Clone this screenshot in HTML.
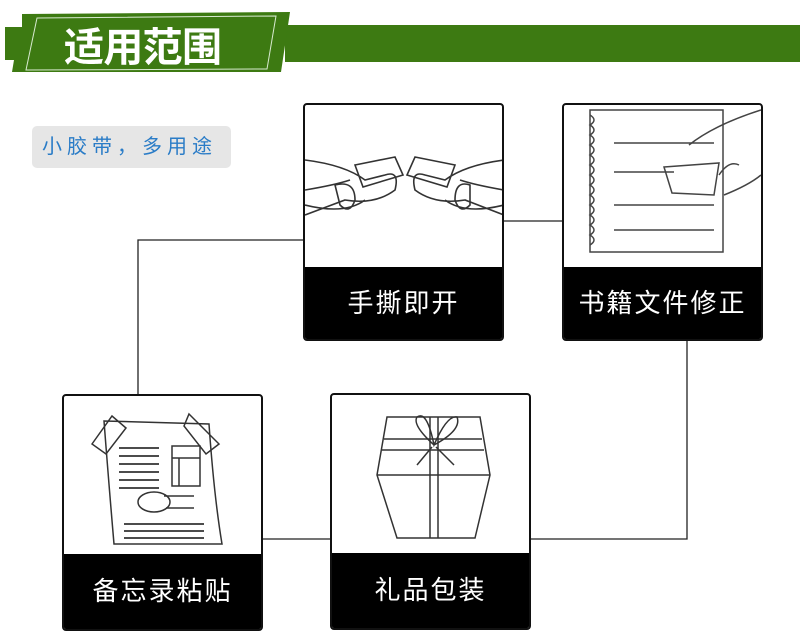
<!DOCTYPE html>
<html><head><meta charset="utf-8"><style>
body{margin:0;width:800px;height:641px;background:#fff;overflow:hidden;font-family:"Liberation Sans","Noto Sans CJK SC",sans-serif;position:relative}
.box{position:absolute;width:201px;border:2px solid #111;border-radius:4px;background:#fff;overflow:hidden;box-sizing:border-box}
.lab{position:absolute;left:0;right:0;bottom:0;background:#000;color:#fff;font-size:26px;letter-spacing:2px;text-align:center}
svg{position:absolute;left:0;top:0}
</style></head><body>
<svg width="800" height="641">
<rect x="285" y="25" width="515" height="37" fill="#3d7a12"/>
<polygon points="22,14 290,12 281,72 12,72 14,60 5,60 5,27 22,27" fill="#3d7a12"/>
<polygon points="37,18 276,16 267,69 26,70" fill="none" stroke="#d8ead0" stroke-width="1"/>
<text x="64" y="61" font-size="40" font-weight="bold" fill="#fff" font-family="Noto Sans CJK SC,sans-serif" textLength="158">适用范围</text>
<g stroke="#222" stroke-width="1.3" fill="none">
<polyline points="304,240 138,240 138,394"/>
<line x1="503" y1="221" x2="563" y2="221"/>
<polyline points="687,340 687,539 530,539"/>
<line x1="262" y1="539" x2="331" y2="539"/>
</g>
</svg>
<div style="position:absolute;left:32px;top:126px;width:199px;height:42px;background:#e6e6e6;border-radius:5px;color:#2a7cc7;font-size:20px;letter-spacing:5px;line-height:42px;text-indent:10px;white-space:nowrap">小胶带，多用途</div>

<div class="box" style="left:303px;top:103px;height:238px">
<svg width="199" height="170" stroke="#333" fill="none" stroke-width="1.6">
<path d="M0,55 Q40,60 60,75 L80,70 Q95,65 90,85 Q70,100 40,95 L0,110"/>
<path d="M0,85 Q30,80 45,75 M0,100 Q40,110 60,95"/>
<path d="M30,80 Q50,75 50,95 Q45,110 35,100 Z"/>
<path d="M50,60 L90,52 L98,70 L58,82 Z"/>
<path d="M199,55 Q160,60 140,75 L120,70 Q105,65 110,85 Q130,100 160,95 L199,110"/>
<path d="M199,85 Q170,80 155,75 M199,100 Q160,110 140,95"/>
<path d="M165,80 Q150,75 150,95 Q155,110 165,100 Z"/>
<path d="M150,60 L110,52 L102,70 L142,82 Z"/>
</svg>
<div class="lab" style="height:72px;line-height:72px">手撕即开</div></div>

<div class="box" style="left:562px;top:103px;height:238px">
<svg width="199" height="170" stroke="#444" fill="none" stroke-width="1.5">
<rect x="26" y="5" width="133" height="142"/>
<path d="M26,10 q8,5 0,10 q8,5 0,10 q8,5 0,10 q8,5 0,10 q8,5 0,10 q8,5 0,10 q8,5 0,10 q8,5 0,10 q8,5 0,10 q8,5 0,10 q8,5 0,10 q8,5 0,10 q8,5 0,10"/>
<line x1="50" y1="38" x2="150" y2="38"/><line x1="50" y1="67" x2="110" y2="67"/>
<line x1="50" y1="100" x2="150" y2="100"/><line x1="50" y1="125" x2="150" y2="125"/>
<path d="M100,62 L155,58 L150,90 L108,88 Z"/>
<path d="M125,40 Q150,20 197,5 M160,90 Q185,80 197,70 M155,70 Q165,55 175,60"/>
</svg>
<div class="lab" style="height:72px;line-height:72px">书籍文件修正</div></div>

<div class="box" style="left:62px;top:394px;height:237px">
<svg width="199" height="170" stroke="#333" fill="none" stroke-width="1.5">
<path d="M40,25 L145,28 Q150,100 158,148 L50,148 Q45,90 40,25 Z"/>
<path d="M28,48 L48,20 L62,32 L42,58 Z M125,18 L155,48 L142,58 L120,30 Z"/>
<g stroke-width="1.8"><line x1="55" y1="52" x2="95" y2="52"/><line x1="55" y1="60" x2="95" y2="60"/><line x1="55" y1="68" x2="95" y2="68"/><line x1="55" y1="76" x2="95" y2="76"/><line x1="55" y1="84" x2="95" y2="84"/><line x1="55" y1="92" x2="95" y2="92"/>
<line x1="60" y1="128" x2="140" y2="128"/><line x1="60" y1="135" x2="140" y2="135"/><line x1="60" y1="142" x2="140" y2="142"/></g>
<rect x="108" y="50" width="28" height="40"/><line x1="108" y1="62" x2="136" y2="62"/><line x1="115" y1="62" x2="115" y2="90"/>
<ellipse cx="90" cy="106" rx="16" ry="10"/><path d="M100,100 L130,100 M102,112 L130,112"/>
</svg>
<div class="lab" style="height:75px;line-height:75px">备忘录粘贴</div></div>

<div class="box" style="left:330px;top:393px;height:237px">
<svg width="199" height="170" stroke="#333" fill="none" stroke-width="1.5">
<path d="M55,22 L148,22 L158,80 L143,143 L65,143 L45,80 Z"/>
<line x1="45" y1="80" x2="158" y2="80"/><line x1="52" y1="44" x2="150" y2="44"/><line x1="50" y1="55" x2="152" y2="55"/>
<line x1="98" y1="22" x2="98" y2="143"/><line x1="106" y1="22" x2="106" y2="143"/>
<path d="M102,50 Q80,30 85,22 Q95,15 102,50 Q115,20 125,22 Q130,35 102,50 Z"/>
<path d="M100,52 L85,70 M104,52 L122,70"/>
</svg>
<div class="lab" style="height:75px;line-height:75px">礼品包装</div></div>
</body></html>
